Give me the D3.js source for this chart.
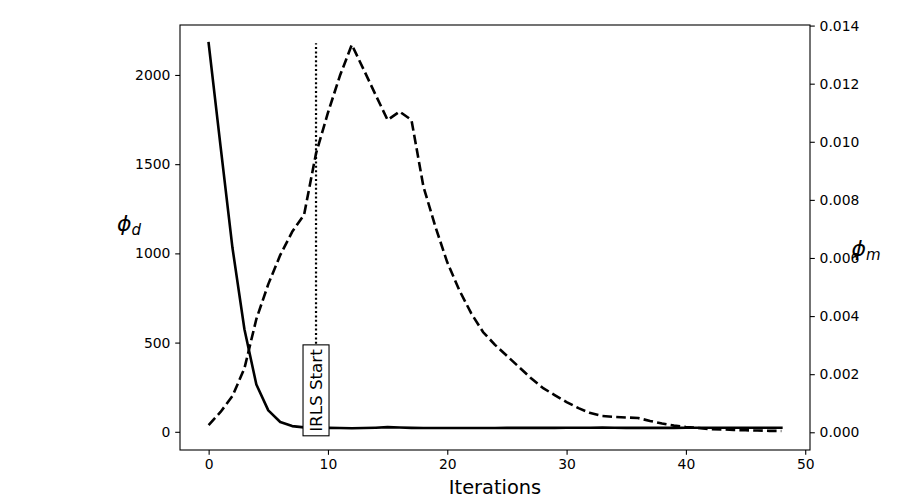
<!DOCTYPE html>
<html><head><meta charset="utf-8">
<script src="https://cdn.jsdelivr.net/npm/d3@7"></script>
<style>
body{margin:0;background:#fff;}
text{font-family:"DejaVu Sans",sans-serif;fill:#000;}
</style></head>
<body><svg id="c" width="900" height="500"></svg>
<script>
const iterations = d3.range(0, 49);
const phiD = [2178,1600,1030,575,265,120,55,32,25,23,
  22,21,20,21,23,26,24,22,21,21,
  21,21,21,21,21,22,22,22,22,22,
  23,23,23,24,23,22,22,22,22,22,
  23,23,23,23,23,23,23,23,23];
const phiM = [0.00025,0.0007,0.00125,0.0022,0.0039,0.0051,0.0061,0.0069,0.00749,0.0096,
  0.0110,0.01227,0.01334,0.01248,0.01161,0.01075,0.01104,0.01075,0.00846,0.00708,
  0.00585,0.0049,0.0041,0.00345,0.00301,0.00263,0.00225,0.00187,0.00153,0.00128,
  0.00104,0.00083,0.00066,0.00056,0.00053,0.00051,0.00049,0.00039,0.0003,0.00023,
  0.00018,0.00015,0.00011,0.0001,0.00008,0.00007,0.00006,0.00005,0.000045];
const xTicks = [0,10,20,30,40,50];
const yLeftTicks = [0,500,1000,1500,2000];
const yRightTicks = [0,0.002,0.004,0.006,0.008,0.010,0.012,0.014];
const irlsStart = 9;

const L=180,R=810,T=25,B=450;
const svg=d3.select("#c");
const x=d3.scaleLinear().domain([-2.4,50.4]).range([L,R]);
const yL=d3.scaleLinear().domain([-102,2280]).range([B,T]);
const yR=d3.scaleLinear().domain([-0.00061,0.01402]).range([B,T]);
const LW=2.6;

const lineD=d3.line().x((d,i)=>x(iterations[i])).y(d=>yL(d));
svg.append("path").attr("d",lineD(phiD)).attr("fill","none").attr("stroke","#000")
  .attr("stroke-width",LW).attr("stroke-linejoin","round").attr("stroke-linecap","square");

svg.append("line").attr("x1",x(irlsStart)).attr("x2",x(irlsStart))
  .attr("y1",yL(0)).attr("y2",yL(d3.max(phiD)))
  .attr("stroke","#000").attr("stroke-width",2.2).attr("stroke-dasharray","2,2.4");

const tg=svg.append("g").attr("transform",`translate(${x(irlsStart)},${yL(0)}) rotate(-90)`);
const rect=tg.append("rect");
const tt=tg.append("text").attr("x",0).attr("y",0).attr("dy","0.36em")
  .attr("font-size",16.7).attr("text-anchor","start").text("IRLS Start");
const bb=tt.node().getBBox();
const pad=4;
rect.attr("x",bb.x-pad).attr("y",-13).attr("width",bb.width+2*pad).attr("height",26)
  .attr("fill","#fff").attr("stroke","#000").attr("stroke-width",1.1);

const lineM=d3.line().x((d,i)=>x(iterations[i])).y(d=>yR(d));
svg.append("path").attr("d",lineM(phiM)).attr("fill","none").attr("stroke","#000")
  .attr("stroke-width",LW).attr("stroke-dasharray","9.6,4.2").attr("stroke-linejoin","round");

svg.append("rect").attr("x",L).attr("y",T).attr("width",R-L).attr("height",B-T)
  .attr("fill","none").attr("stroke","#000").attr("stroke-width",1.1);

const fs=13.9, tk=4.8;
const ax=svg.append("g").attr("transform",`translate(0,${B})`)
  .call(d3.axisBottom(x).tickValues(xTicks).tickSize(tk).tickPadding(tk).tickFormat(d3.format("d")));
const ayl=svg.append("g").attr("transform",`translate(${L},0)`)
  .call(d3.axisLeft(yL).tickValues(yLeftTicks).tickSize(tk).tickPadding(tk).tickFormat(d3.format("d")));
const ayr=svg.append("g").attr("transform",`translate(${R},0)`)
  .call(d3.axisRight(yR).tickValues(yRightTicks).tickSize(tk).tickPadding(tk).tickFormat(d3.format(".3f")));
[ax,ayl,ayr].forEach(g=>{
  g.select(".domain").remove();
  g.selectAll(".tick line").attr("stroke","#000").attr("stroke-width",1.1);
  g.selectAll(".tick text").attr("font-size",fs).attr("font-family","DejaVu Sans").attr("fill","#000");
});

svg.append("text").attr("x",(L+R)/2).attr("y",494).attr("text-anchor","middle")
  .attr("font-size",19.4).text("Iterations");
const ld=svg.append("text").attr("x",129).attr("y",231).attr("text-anchor","middle").attr("font-size",22);
ld.append("tspan").attr("font-style","italic").text("ϕ");
ld.append("tspan").attr("font-style","italic").attr("font-size",15).attr("dy",4).text("d");
const lm=svg.append("text").attr("x",866).attr("y",256).attr("text-anchor","middle").attr("font-size",22);
lm.append("tspan").attr("font-style","italic").text("ϕ");
lm.append("tspan").attr("font-style","italic").attr("font-size",15).attr("dy",4).text("m");
</script></body></html>
